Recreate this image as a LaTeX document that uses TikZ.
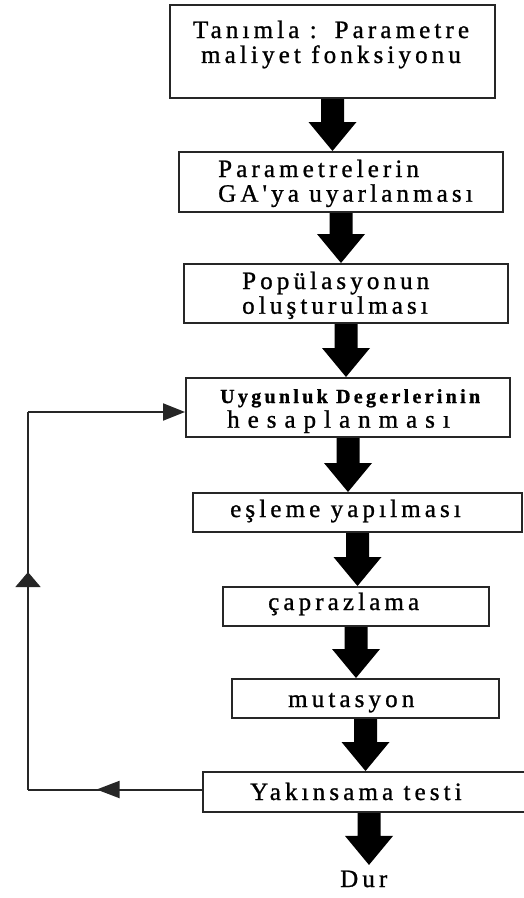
\documentclass[tikz,border=0pt]{standalone}
\usepackage{fontspec}
\setmainfont{Liberation Serif}
\newfontfamily\flowfont[LetterSpace=16.5,FakeBold=1]{Liberation Serif}
\usetikzlibrary{calc,arrows.meta,decorations.markings}

\tikzset{
  % process boxes of the flow chart
  stage/.style={draw=black!85, line width=2pt, rectangle, inner sep=0pt, fill=white},
  % labels set inside the boxes
  txt/.style={inner sep=0pt, font=\flowfont\fontsize{25}{24.5}\selectfont, text=black},
  % the thick block arrows between the steps
  fatarrow/.style={to path={
      -- ($(\tikztostart)+(-11.5,0)$)
      -- ($(\tikztostart |- \tikztotarget)+(-11.5,-29)$)
      -- ($(\tikztostart |- \tikztotarget)+(-24,-29)$)
      -- (\tikztostart |- \tikztotarget)
      -- ($(\tikztostart |- \tikztotarget)+(24,-29)$)
      -- ($(\tikztostart |- \tikztotarget)+(11.5,-29)$)
      -- ($(\tikztostart)+(11.5,0)$)
      -- cycle}},
  % the thin feedback line
  loopline/.style={draw=black!85, line width=2pt},
  midtip/.style={postaction={decorate}, decoration={markings,
      mark=at position #1 with {\arrow{Triangle[length=23pt,width=17pt]}}}},
  uptip/.style={postaction={decorate}, decoration={markings,
      mark=at position #1 with {\arrow{Triangle[length=15pt,width=25pt]}}}}
}

\begin{document}
\begin{tikzpicture}[x=1pt,y=-1pt]
  \path[use as bounding box, fill=white] (0,0) rectangle (524,898);

  % boxes
  \node[stage, minimum width=325pt, minimum height=93pt] (b1) at (332.5,51.5) {};
  \node[stage, minimum width=324pt, minimum height=60pt] (b2) at (341,182) {};
  \node[stage, minimum width=324pt, minimum height=59pt] (b3) at (346,293.5) {};
  \node[stage, minimum width=324pt, minimum height=59pt] (b4) at (348,407.5) {};
  \node[stage, minimum width=329pt, minimum height=39pt] (b5) at (357.5,512.5) {};
  \node[stage, minimum width=266pt, minimum height=39pt] (b6) at (356,606.5) {};
  \node[stage, minimum width=267pt, minimum height=39pt] (b7) at (365.5,698.5) {};
  \node[stage, minimum width=332pt, minimum height=40pt] (b8) at (369,792) {};

  % labels
  \node[txt, anchor=base] (t1) at (331,38)
    {\begin{tabular}[t]{@{}c@{}}Tanımla :\, Parametre\\maliyet fonksiyonu\end{tabular}};
  \node[txt, anchor=base west] (t2) at (218,177)
    {\begin{tabular}[t]{@{}l@{}}Parametrelerin\\GA'ya uyarlanması\end{tabular}};
  \node[txt, anchor=base west] (t3) at (242,289)
    {\begin{tabular}[t]{@{}l@{}}Popülasyonun\\oluşturulması\end{tabular}};
  \node[txt, anchor=base west] (t4) at (220,403)
    {\begin{tabular}[t]{@{}l@{}}{\bfseries\fontsize{20}{24.5}\selectfont Uygunluk Degerlerinin}\\
      \hspace*{7pt}{\addfontfeature{LetterSpace=32}hesaplanması}\end{tabular}};
  \node[txt, anchor=base west] (t5) at (230,517) {eşleme yapılması};
  \node[txt, anchor=base west] (t6) at (268,610) {çaprazlama};
  \node[txt, anchor=base west] (t7) at (288,707) {mutasyon};
  \node[txt, anchor=base west] (t8) at (250,800) {Yakınsama testi};
  \node[txt, anchor=base west, inner ysep=5.5pt] (dur) at (340,887) {Dur};

  % block arrows
  \fill[black, fatarrow] (b1.south) to (b2.north);
  \fill[black, fatarrow] (b2.south) to (b3.north);
  \fill[black, fatarrow] (b3.south) to (b4.north);
  \fill[black, fatarrow] (b4.south) to (b5.north);
  \fill[black, fatarrow] (b5.south) to (b6.north);
  \fill[black, fatarrow] (b6.south) to (b7.north);
  \fill[black, fatarrow] (b7.south) to (b8.north);
  \fill[black, fatarrow] (b8.south) to (dur.north);

  % feedback loop from the convergence test back to fitness evaluation
  \coordinate (rail) at (28,600);
  \coordinate (fbout) at ($(b8.west)+(0,-2.5)$);
  \coordinate (fbin) at ($(b4.west)+(0,4.5)$);
  \draw[loopline, midtip=0.606] (fbout) -- (fbout -| rail);
  \draw[loopline, uptip=0.576] (fbout -| rail) -- (fbin -| rail);
  \draw[loopline, -{Triangle[length=22pt,width=17pt]}] (fbin -| rail) -- (fbin);
\end{tikzpicture}
\end{document}
